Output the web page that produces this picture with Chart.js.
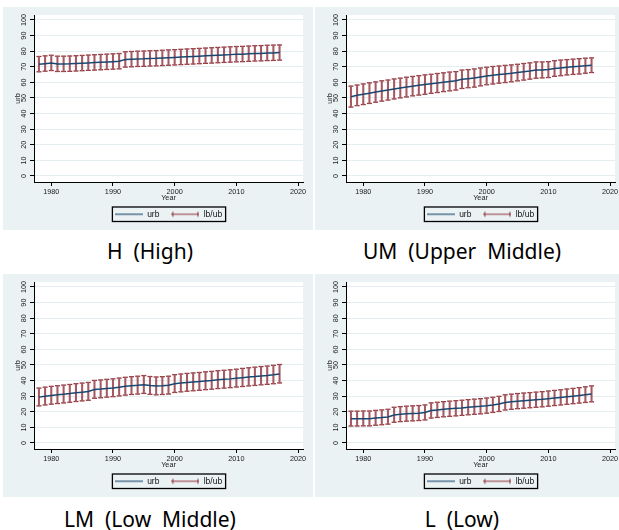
<!DOCTYPE html>
<html lang="en">
<head>
<meta charset="UTF-8">
<title>Urbanization by income group</title>
<script src="https://cdn.jsdelivr.net/npm/chart.js"></script>
<style>
  body { margin: 0; background: #fff; width: 619px; height: 530px; overflow: hidden; position: relative; }
  canvas { position: absolute; }
  .cap { position: absolute; width: 310px; text-align: center; font-family: "Noto Sans", sans-serif;
         font-size: 21px; line-height: 20px; white-space: pre; color: #000; }
</style>
</head>
<body>
<canvas id="chartH" width="310" height="223" style="left:3px; top:7px"></canvas>
<canvas id="chartUM" width="310" height="223" style="left:315px; top:7px"></canvas>
<canvas id="chartLM" width="310" height="223" style="left:3px; top:274px"></canvas>
<canvas id="chartL" width="310" height="223" style="left:315px; top:274px"></canvas>
<div class="cap" style="left:-5px; top:241px">H  (High)</div>
<div class="cap" style="left:307px; top:241px">UM  (Upper  Middle)</div>
<div class="cap" style="left:-5px; top:509px">LM  (Low  Middle)</div>
<div class="cap" style="left:307px; top:509px">L  (Low)</div>
<script>
const years = [1978, 1979, 1980, 1981, 1982, 1983, 1984, 1985, 1986, 1987,
               1988, 1989, 1990, 1991, 1992, 1993, 1994, 1995, 1996, 1997,
               1998, 1999, 2000, 2001, 2002, 2003, 2004, 2005, 2006, 2007,
               2008, 2009, 2010, 2011, 2012, 2013, 2014, 2015, 2016, 2017];
const xTicks = [1980, 1990, 2000, 2010, 2020];
const yTicks = [0, 10, 20, 30, 40, 50, 60, 70, 80, 90, 100];

// H (High)
const hUrb = [71.6, 72.0, 72.4, 71.8, 71.8, 71.9, 72.1, 72.3, 72.5, 72.7,
              72.9, 73.1, 73.3, 73.5, 74.6, 74.8, 75.0, 75.1, 75.3, 75.4,
              75.6, 75.8, 76.0, 76.2, 76.4, 76.6, 76.8, 77.0, 77.2, 77.4,
              77.6, 77.8, 78.0, 78.1, 78.3, 78.5, 78.6, 78.8, 78.9, 79.1];
const hLb  = [66.8, 67.2, 67.6, 67.0, 67.0, 67.1, 67.3, 67.5, 67.7, 67.9,
              68.1, 68.3, 68.5, 68.7, 69.8, 70.0, 70.2, 70.3, 70.5, 70.6,
              70.8, 71.0, 71.2, 71.4, 71.6, 71.8, 72.0, 72.2, 72.4, 72.6,
              72.8, 73.0, 73.2, 73.3, 73.5, 73.7, 73.8, 74.0, 74.1, 74.3];
const hUb  = [76.6, 77.0, 77.4, 76.8, 76.8, 76.9, 77.1, 77.3, 77.5, 77.7,
              77.9, 78.1, 78.3, 78.5, 79.6, 79.8, 80.0, 80.1, 80.3, 80.4,
              80.6, 80.8, 81.0, 81.2, 81.4, 81.6, 81.8, 82.0, 82.2, 82.4,
              82.6, 82.8, 83.0, 83.1, 83.3, 83.5, 83.6, 83.8, 83.9, 84.0];

// UM (Upper Middle)
const umUrb = [50.8, 51.7, 52.4, 53.1, 53.8, 54.5, 55.1, 55.8, 56.4, 57.0,
               57.6, 58.1, 58.6, 59.1, 59.6, 60.1, 60.6, 61.0, 62.0, 62.4,
               62.8, 63.5, 64.1, 64.6, 65.0, 65.4, 65.8, 66.3, 66.8, 67.3,
               67.9, 68.0, 68.2, 68.9, 69.3, 69.7, 70.0, 70.3, 70.7, 71.0];
const umLb  = [44.2, 45.1, 45.8, 46.5, 47.3, 48.0, 48.7, 49.4, 50.1, 50.7,
               51.4, 51.9, 52.4, 53.0, 53.5, 54.1, 54.6, 55.1, 56.1, 56.6,
               57.0, 57.8, 58.5, 59.0, 59.5, 59.9, 60.4, 61.0, 61.5, 62.1,
               62.7, 62.9, 63.1, 63.9, 64.3, 64.8, 65.1, 65.4, 65.9, 66.3];
const umUb  = [57.6, 58.3, 59.0, 59.7, 60.3, 61.0, 61.5, 62.2, 62.7, 63.3,
               63.8, 64.3, 64.8, 65.2, 65.7, 66.1, 66.6, 66.9, 67.9, 68.2,
               68.6, 69.2, 69.7, 70.2, 70.5, 70.9, 71.2, 71.6, 72.1, 72.5,
               73.1, 73.1, 73.3, 73.9, 74.3, 74.6, 74.9, 75.2, 75.5, 75.7];

// LM (Low Middle)
const lmUrb = [29.4, 30.0, 30.5, 30.9, 31.3, 31.7, 32.2, 32.6, 33.0, 34.3,
               34.6, 35.0, 35.3, 35.8, 36.3, 36.7, 37.0, 37.4, 36.8, 36.5,
               36.7, 37.0, 38.0, 38.4, 38.8, 39.1, 39.4, 39.8, 40.1, 40.5,
               40.8, 41.1, 41.5, 41.9, 42.3, 42.6, 43.0, 43.3, 43.7, 44.2];
const lmLb  = [23.8, 24.4, 24.9, 25.3, 25.7, 26.1, 26.6, 27.0, 27.4, 28.7,
               29.0, 29.4, 29.7, 30.2, 30.7, 31.1, 31.4, 31.8, 31.2, 30.9,
               31.1, 31.4, 32.4, 32.8, 33.2, 33.5, 33.8, 34.2, 34.5, 34.9,
               35.2, 35.5, 35.9, 36.2, 36.6, 36.9, 37.3, 37.6, 38.0, 38.5];
const lmUb  = [35.2, 35.8, 36.3, 36.7, 37.1, 37.5, 38.0, 38.4, 38.8, 40.1,
               40.4, 40.8, 41.1, 41.6, 42.1, 42.5, 42.8, 43.2, 42.6, 42.3,
               42.5, 42.8, 43.8, 44.2, 44.6, 44.9, 45.2, 45.6, 45.9, 46.3,
               46.6, 46.9, 47.3, 47.8, 48.2, 48.6, 49.0, 49.3, 49.8, 50.3];

// L (Low)
const lUrb = [15.5, 15.5, 15.6, 15.6, 16.0, 16.3, 16.7, 18.0, 18.4, 18.7,
              18.9, 19.1, 19.5, 20.8, 21.2, 21.6, 21.9, 22.2, 22.5, 22.9,
              23.2, 23.5, 23.9, 24.4, 25.0, 26.0, 26.4, 26.8, 27.1, 27.4,
              27.7, 28.0, 28.4, 28.8, 29.2, 29.6, 30.0, 30.4, 30.9, 31.4];
const lLb  = [10.9, 10.9, 11.0, 11.0, 11.4, 11.7, 12.1, 13.3, 13.7, 14.0,
              14.2, 14.4, 14.8, 16.0, 16.4, 16.8, 17.1, 17.4, 17.7, 18.1,
              18.4, 18.7, 19.1, 19.6, 20.2, 21.2, 21.6, 22.0, 22.3, 22.6,
              22.9, 23.2, 23.6, 24.0, 24.4, 24.8, 25.2, 25.6, 26.0, 26.4];
const lUb  = [20.4, 20.4, 20.5, 20.5, 20.9, 21.2, 21.6, 22.9, 23.3, 23.6,
              23.8, 24.0, 24.4, 25.7, 26.1, 26.5, 26.8, 27.1, 27.4, 27.8,
              28.1, 28.4, 28.8, 29.3, 29.9, 30.9, 31.3, 31.7, 32.0, 32.3,
              32.6, 32.9, 33.3, 33.7, 34.1, 34.6, 35.0, 35.5, 36.0, 36.6];

const navy = '#1a476f';
const maroon = '#90353b';
const axisFont = { family: 'Liberation Sans', size: 7.3 };
const legendFont = { family: 'Liberation Sans', size: 8.5 };

// small legend samples: plain line for urb, capped line for lb/ub
const urbIcon = document.createElement('canvas');
urbIcon.width = 28; urbIcon.height = 4;
let c = urbIcon.getContext('2d');
c.strokeStyle = navy; c.lineWidth = 1.1;
c.beginPath(); c.moveTo(0, 2); c.lineTo(28, 2); c.stroke();

const ciIcon = document.createElement('canvas');
ciIcon.width = 28; ciIcon.height = 8;
c = ciIcon.getContext('2d');
c.strokeStyle = maroon; c.lineWidth = 1;
c.beginPath();
c.moveTo(0, 4); c.lineTo(28, 4);
c.moveTo(1.5, 1.5); c.lineTo(1.5, 6.5);
c.moveTo(26.5, 1.5); c.lineTo(26.5, 6.5);
c.stroke();

const panelBg = {
  id: 'panelBg',
  beforeDraw(chart) {
    const { ctx, width, height, chartArea: a } = chart;
    ctx.save();
    ctx.fillStyle = '#eaf2f3';
    ctx.fillRect(0, 0, width, height);
    ctx.fillStyle = '#fff';
    ctx.fillRect(a.left, a.top, a.right - a.left, a.bottom - a.top);
    ctx.restore();
  }
};

const legendFrame = {
  id: 'legendFrame',
  afterDraw(chart) {
    const hb = chart.legend.legendHitBoxes;
    if (!hb || !hb.length) return;
    const last = hb[hb.length - 1];
    const ctx = chart.ctx;
    ctx.save();
    ctx.strokeStyle = '#000';
    ctx.lineWidth = 1.3;
    ctx.strokeRect(hb[0].left - 2.5, hb[0].top - 3,
                   last.left + last.width - hb[0].left + 6, hb[0].height + 6);
    ctx.restore();
  }
};

function drawPanel(id, urb, lb, ub) {
  new Chart(document.getElementById(id), {
    type: 'line',
    data: {
      datasets: [
        { type: 'line', label: 'urb', order: 0,
          data: years.map((yr, i) => ({ x: yr, y: urb[i] })),
          borderColor: navy, borderWidth: 1.5, pointRadius: 0, tension: 0 },
        { type: 'bar', label: 'lb/ub', order: 1,
          data: years.map((yr, i) => ({ x: yr, y: [lb[i], ub[i]] })),
          backgroundColor: '#a65961', borderWidth: 0, barThickness: 1.4 },
        { type: 'line', label: 'ub', order: 1, showLine: false,
          data: years.map((yr, i) => ({ x: yr, y: ub[i] })),
          pointStyle: 'line', pointRadius: 2.5, pointBorderColor: maroon, pointBorderWidth: 1.3 },
        { type: 'line', label: 'lb', order: 1, showLine: false,
          data: years.map((yr, i) => ({ x: yr, y: lb[i] })),
          pointStyle: 'line', pointRadius: 2.5, pointBorderColor: maroon, pointBorderWidth: 1.3 }
      ]
    },
    options: {
      responsive: false,
      animation: false,
      events: [],
      layout: { padding: { left: 0, top: 8, right: 10, bottom: 1.5 } },
      scales: {
        x: {
          type: 'linear', min: 1977.2, max: 2020.8, offset: false,
          afterBuildTicks: s => { s.ticks = xTicks.map(v => ({ value: v })); },
          afterFit: s => { s.height = 16; },
          ticks: { callback: v => String(v), font: axisFont, color: '#222', padding: 2,
                   minRotation: 0, maxRotation: 0, autoSkip: false },
          grid: { drawOnChartArea: false, tickLength: 4, tickColor: '#000', offset: false },
          border: { color: '#000', width: 1 },
          title: { display: true, text: 'Year', font: axisFont, color: '#222',
                   padding: { top: 0, bottom: -4.2 } }
        },
        y: {
          min: -3.85, max: 103.2,
          afterBuildTicks: s => { s.ticks = yTicks.map(v => ({ value: v })); },
          afterFit: s => { s.width = 31; },
          ticks: { font: axisFont, color: '#222', padding: 0, minRotation: 90, maxRotation: 90,
                   crossAlign: 'center', autoSkip: false },
          grid: { color: '#e4edf0', lineWidth: 1, tickLength: 4, tickColor: '#000' },
          border: { color: '#000', width: 1 },
          title: { display: true, text: 'urb', font: axisFont, color: '#222',
                   padding: { top: 10.3, bottom: 0 } }
        }
      },
      plugins: {
        tooltip: { enabled: false },
        legend: {
          position: 'bottom', fullSize: false,
          labels: {
            usePointStyle: true, pointStyleWidth: 28, padding: 12,
            font: legendFont, color: '#111',
            generateLabels: () => [
              { text: 'urb', pointStyle: urbIcon, lineWidth: 0, hidden: false, datasetIndex: 0, fontColor: '#111' },
              { text: 'lb/ub', pointStyle: ciIcon, lineWidth: 0, hidden: false, datasetIndex: 1, fontColor: '#111' }
            ]
          }
        }
      }
    },
    plugins: [panelBg, legendFrame]
  });
}

drawPanel('chartH', hUrb, hLb, hUb);
drawPanel('chartUM', umUrb, umLb, umUb);
drawPanel('chartLM', lmUrb, lmLb, lmUb);
drawPanel('chartL', lUrb, lLb, lUb);
</script>
</body>
</html>
